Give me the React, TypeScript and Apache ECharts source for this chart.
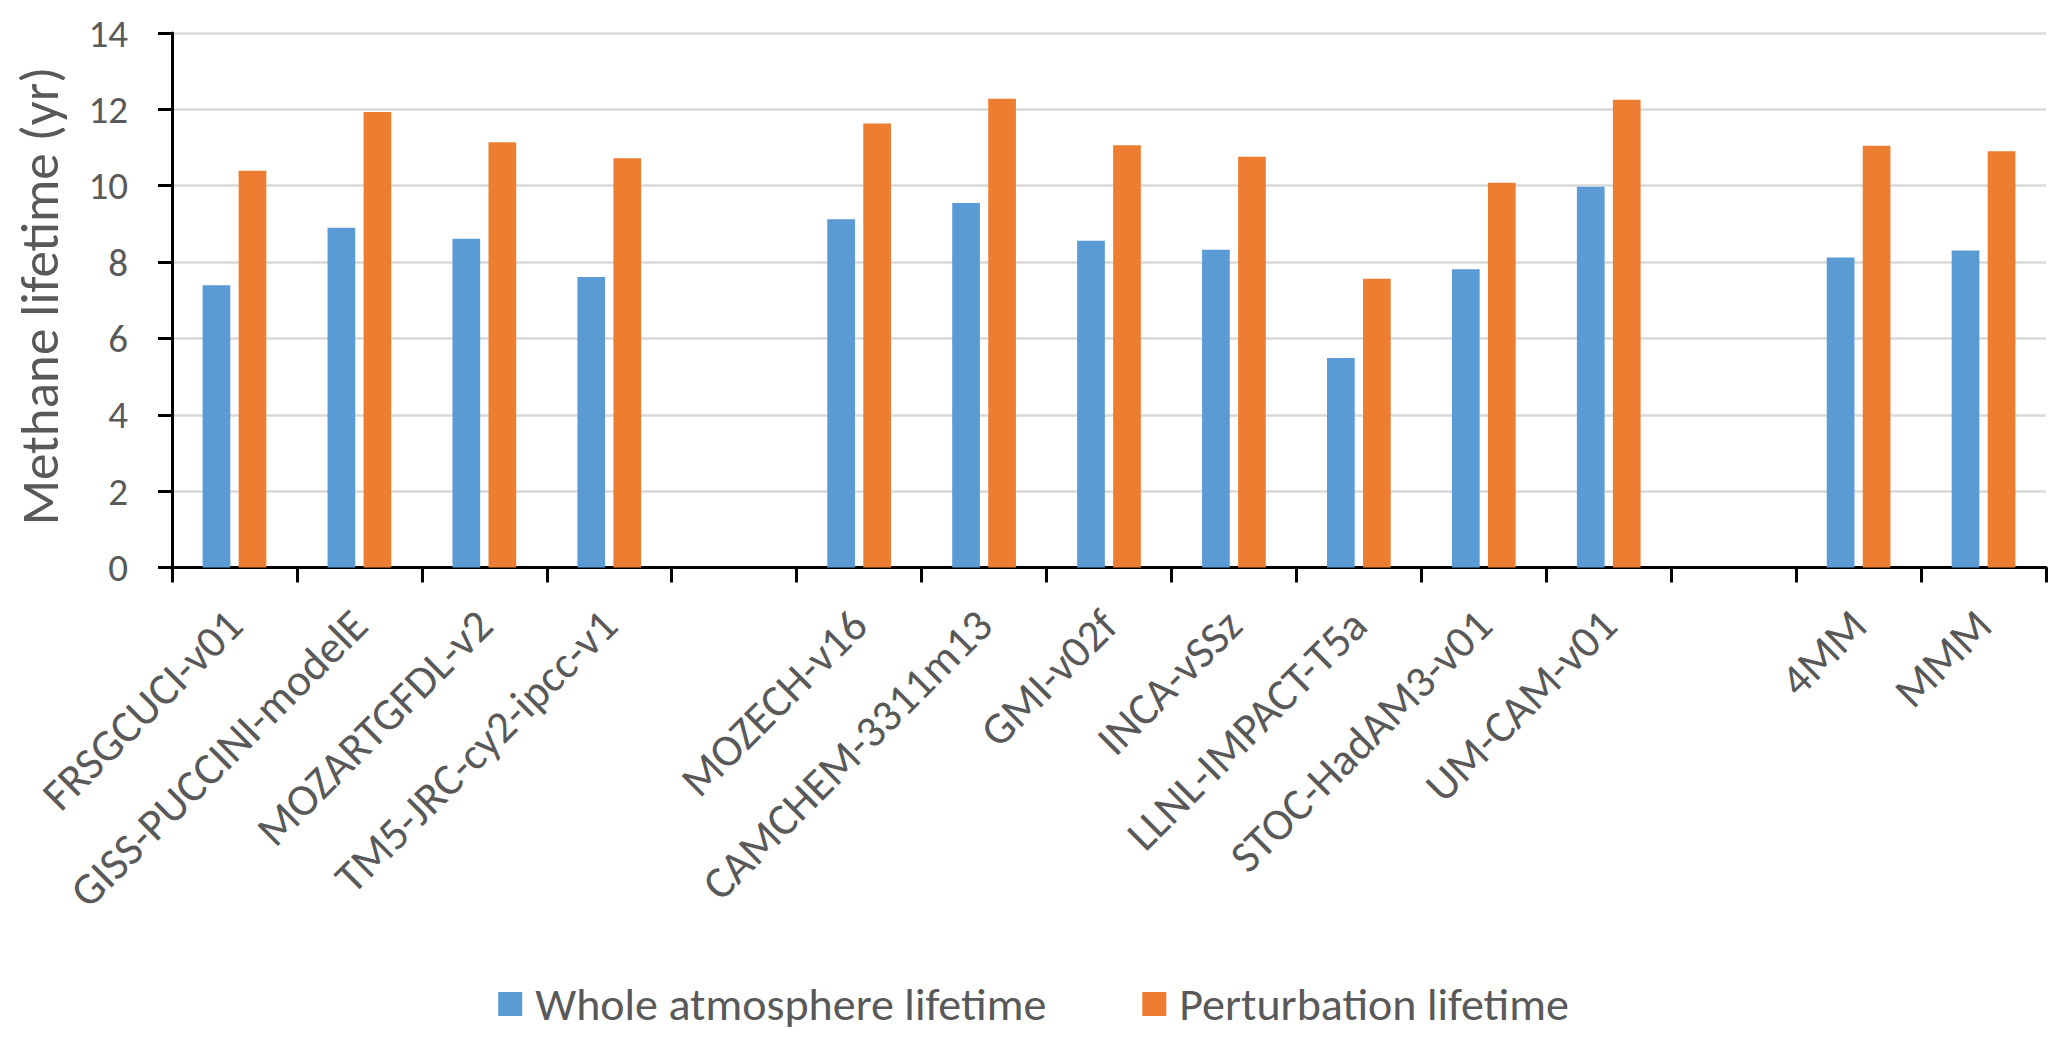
import React, { useEffect, useRef } from "react";
import * as echarts from "echarts";

const categories = [
  "FRSGCUCI-v01",
  "GISS-PUCCINI-modelE",
  "MOZARTGFDL-v2",
  "TM5-JRC-cy2-ipcc-v1",
  "",
  "MOZECH-v16",
  "CAMCHEM-3311m13",
  "GMI-v02f",
  "INCA-vSSz",
  "LLNL-IMPACT-T5a",
  "STOC-HadAM3-v01",
  "UM-CAM-v01",
  "",
  "4MM",
  "MMM",
];

const wholeAtmosphere = [7.39, 8.9, 8.61, 7.61, null, 9.12, 9.55, 8.56, 8.32, 5.49, 7.81, 9.97, null, 8.12, 8.3];
const perturbation = [10.39, 11.93, 11.14, 10.72, null, 11.63, 12.28, 11.06, 10.76, 7.56, 10.08, 12.25, null, 11.05, 10.9];

const seriesNames = ["Whole atmosphere lifetime", "Perturbation lifetime"];
const yAxisTitle = "Methane lifetime (yr)";

const FONT = "Calibri, Carlito, Lato, sans-serif";
const GRAY = "#595959";

export default function App() {
  const ref = useRef<HTMLDivElement>(null);

  useEffect(() => {
    if (!ref.current) return;
    const chart = echarts.init(ref.current, null, { renderer: "svg" });
    chart.setOption({
      animation: false,
      backgroundColor: "#ffffff",
      grid: { left: 172, right: 21, top: 33, bottom: 477.5, containLabel: false },
      legend: {
        left: "center",
        top: 976,
        icon: "rect",
        itemWidth: 24,
        itemHeight: 24,
        itemGap: 96,
        textStyle: { fontSize: 46, color: GRAY, fontFamily: FONT, padding: [0, 0, 0, 8] },
        data: seriesNames,
      },
      graphic: [
        {
          type: "text",
          x: 40,
          y: 296,
          rotation: Math.PI / 2,
          style: {
            text: yAxisTitle,
            fontSize: 53,
            fontFamily: FONT,
            fill: GRAY,
            align: "center",
            verticalAlign: "middle",
          },
        },
      ],
      xAxis: {
        type: "category",
        data: categories,
        boundaryGap: true,
        axisLine: { show: true, lineStyle: { color: "#000", width: 3 } },
        axisTick: { show: true, interval: 0, length: 15, alignWithLabel: false, lineStyle: { color: "#000", width: 3 } },
        axisLabel: {
          interval: 0,
          rotate: 45,
          margin: 50,
          color: GRAY,
          fontSize: 45,
          fontFamily: FONT,
        },
        splitLine: { show: false },
      },
      yAxis: {
        type: "value",
        min: 0,
        max: 14,
        interval: 2,
        axisLine: { show: true, lineStyle: { color: "#000", width: 3 } },
        axisTick: { show: true, length: 14, lineStyle: { color: "#000", width: 3 } },
        axisLabel: { margin: 44, color: GRAY, fontSize: 39, fontFamily: FONT },
        splitLine: { show: true, lineStyle: { color: "#D9D9D9", width: 2.5 } },
      },
      series: [
        {
          name: seriesNames[0],
          type: "bar",
          data: wholeAtmosphere,
          barWidth: 27.7,
          barGap: "30%",
          itemStyle: { color: "#5B9BD5" },
        },
        {
          name: seriesNames[1],
          type: "bar",
          data: perturbation,
          barWidth: 27.7,
          barGap: "30%",
          itemStyle: { color: "#ED7D31" },
        },
      ],
    });
    return () => chart.dispose();
  }, []);

  return (
    <div
      ref={ref}
      style={{ position: "absolute", left: 0, top: 0, width: 2067, height: 1045, background: "#fff" }}
    />
  );
}
